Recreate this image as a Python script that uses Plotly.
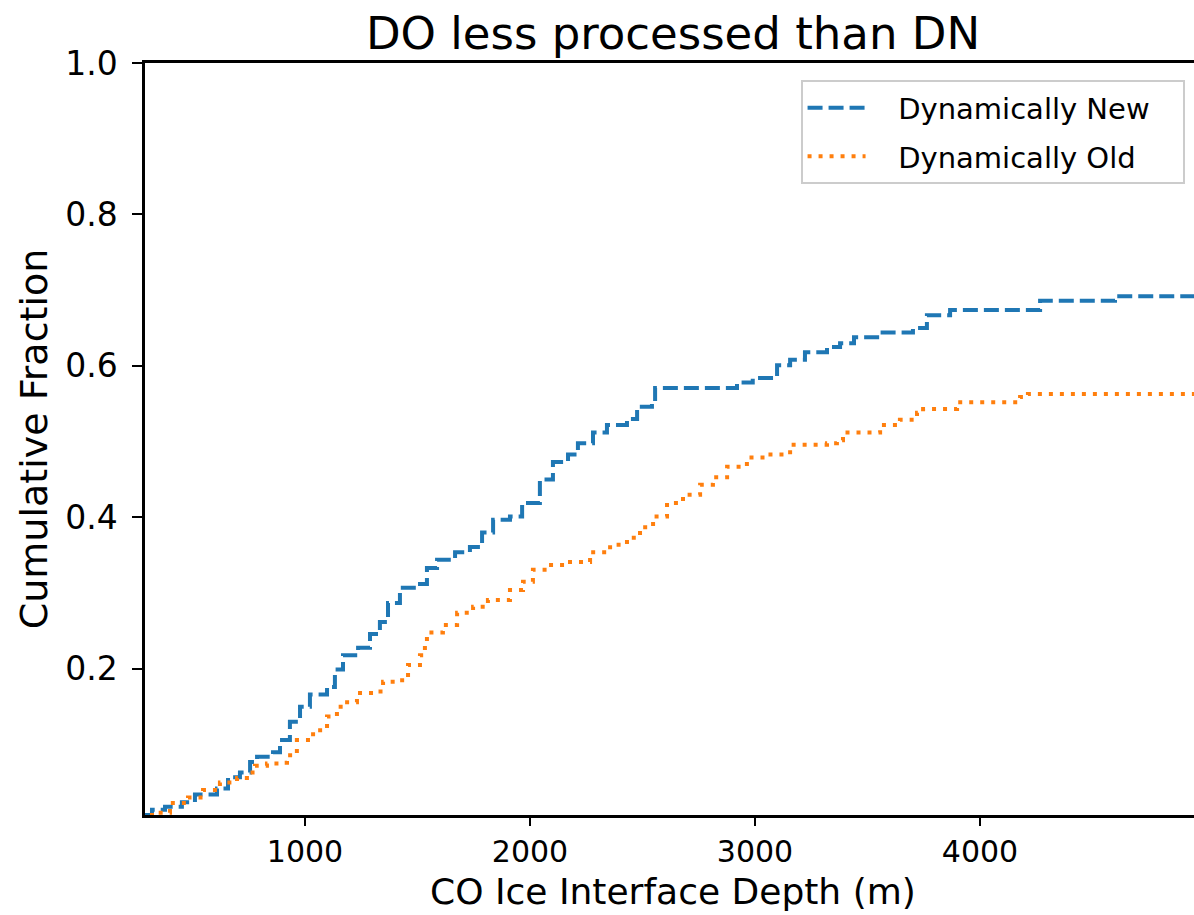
import plotly.graph_objects as go

# Dynamically New: step positions (m) and cumulative fraction after each step
dn_depth = [289, 320, 378, 453, 511, 609, 658, 711, 756, 787, 858, 889, 933, 978, 1022,
            1098, 1133, 1169, 1236, 1289, 1333, 1369, 1422, 1498, 1542, 1587, 1667, 1733,
            1787, 1836, 1911, 1965, 2044, 2102, 2169, 2213, 2280, 2342, 2431, 2476, 2542,
            2556, 2920, 2990, 3098, 3156, 3222, 3320, 3378, 3440, 3556, 3702, 3764, 3867,
            4267, 4600, 5000]
dn_frac = [0.007, 0.014, 0.018, 0.024, 0.034, 0.042, 0.057, 0.063, 0.077, 0.084, 0.090,
           0.106, 0.130, 0.150, 0.166, 0.176, 0.199, 0.218, 0.228, 0.246, 0.262, 0.287,
           0.307, 0.312, 0.333, 0.344, 0.354, 0.361, 0.380, 0.397, 0.401, 0.419, 0.450,
           0.473, 0.483, 0.498, 0.512, 0.522, 0.530, 0.546, 0.552, 0.571, 0.578, 0.584,
           0.601, 0.608, 0.618, 0.625, 0.630, 0.638, 0.644, 0.650, 0.667, 0.674, 0.686,
           0.692, 0.692]

# Dynamically Old
do_depth = [311, 342, 400, 480, 547, 622, 698, 742, 778, 831, 889, 920, 964, 1036, 1098,
            1142, 1169, 1231, 1311, 1347, 1422, 1458, 1511, 1533, 1542, 1613, 1676, 1747,
            1813, 1911, 1969, 2013, 2076, 2164, 2267, 2356, 2431, 2489, 2547, 2609, 2680,
            2756, 2813, 2876, 2964, 3053, 3156, 3320, 3364, 3391, 3556, 3644, 3720, 3747,
            3898, 4178, 4213, 5000]
do_frac = [0.007, 0.010, 0.023, 0.030, 0.040, 0.050, 0.056, 0.063, 0.072, 0.075, 0.076,
           0.086, 0.106, 0.119, 0.137, 0.150, 0.156, 0.168, 0.170, 0.183, 0.185, 0.205,
           0.218, 0.236, 0.248, 0.258, 0.274, 0.282, 0.291, 0.304, 0.315, 0.331, 0.337,
           0.341, 0.354, 0.364, 0.373, 0.387, 0.401, 0.419, 0.430, 0.443, 0.453, 0.467,
           0.479, 0.483, 0.496, 0.498, 0.502, 0.512, 0.522, 0.529, 0.538, 0.543, 0.552,
           0.559, 0.563, 0.563]

series_names = ["Dynamically New", "Dynamically Old"]
x_ticks = [1000, 2000, 3000, 4000]
y_ticks = [0.2, 0.4, 0.6, 0.8, 1.0]

assert len(dn_depth) == len(dn_frac) and len(do_depth) == len(do_frac)

FONT = "DejaVu Sans"
PAD = "\u00a0\u00a0\u00a0"  # spacing around legend labels


def legend_label(name):
    return PAD + name + PAD


fig = go.Figure()
fig.add_trace(go.Scatter(x=dn_depth, y=dn_frac, mode="lines", name=legend_label(series_names[0]),
                         line=dict(color="#1f77b4", width=4, dash="15px,6px", shape="hv"),
                         legendgroup="a"))
fig.add_trace(go.Scatter(x=do_depth, y=do_frac, mode="lines", name=legend_label(series_names[1]),
                         line=dict(color="#ff7f0e", width=4, dash="4px,7px", shape="hv"),
                         legendgroup="b"))

fig.update_layout(
    width=1194, height=915,
    margin=dict(l=145, r=0, t=63, b=100),
    plot_bgcolor="white", paper_bgcolor="white",
    font=dict(family=FONT, color="black"),
    title=dict(text="DO less processed than DN", font=dict(size=45, family=FONT, color="black"),
               x=(673 / 1194), xanchor="center", y=1 - 33 / 915, yanchor="middle",
               xref="container", yref="container"),
    legend=dict(x=0.991, y=0.977, xanchor="right", yanchor="top",
                bgcolor="white", bordercolor="#cccccc", borderwidth=2,
                font=dict(size=29, family=FONT, color="black"),
                itemwidth=58, tracegroupgap=8),
    showlegend=True,
    annotations=[dict(text="CO Ice Interface Depth (m)", xref="paper", yref="paper",
                      x=(673 - 145) / 1049, y=-(914 - 815) / 752, xanchor="center",
                      yanchor="bottom", showarrow=False,
                      font=dict(size=36, family=FONT, color="black"))],
)
fig.update_xaxes(range=[289, 4951], tickvals=x_ticks, tickformat="d",
                 showgrid=False, zeroline=False,
                 showline=True, linecolor="black", linewidth=2.5, mirror=True,
                 ticks="outside", ticklen=8, tickwidth=2, tickcolor="black",
                 tickfont=dict(size=30, family=FONT, color="black"))
fig.update_yaxes(range=[0.007, 1.0], tickvals=y_ticks, tickformat=".1f",
                 showgrid=False, zeroline=False,
                 showline=True, linecolor="black", linewidth=2.5, mirror=False,
                 ticks="outside", ticklen=10, tickwidth=2, tickcolor="black",
                 ticklabelstandoff=8,
                 tickfont=dict(size=33, family=FONT, color="black"),
                 title=dict(text="Cumulative Fraction", standoff=6,
                            font=dict(size=38, family=FONT, color="black")))

fig.write_html("out.html")
